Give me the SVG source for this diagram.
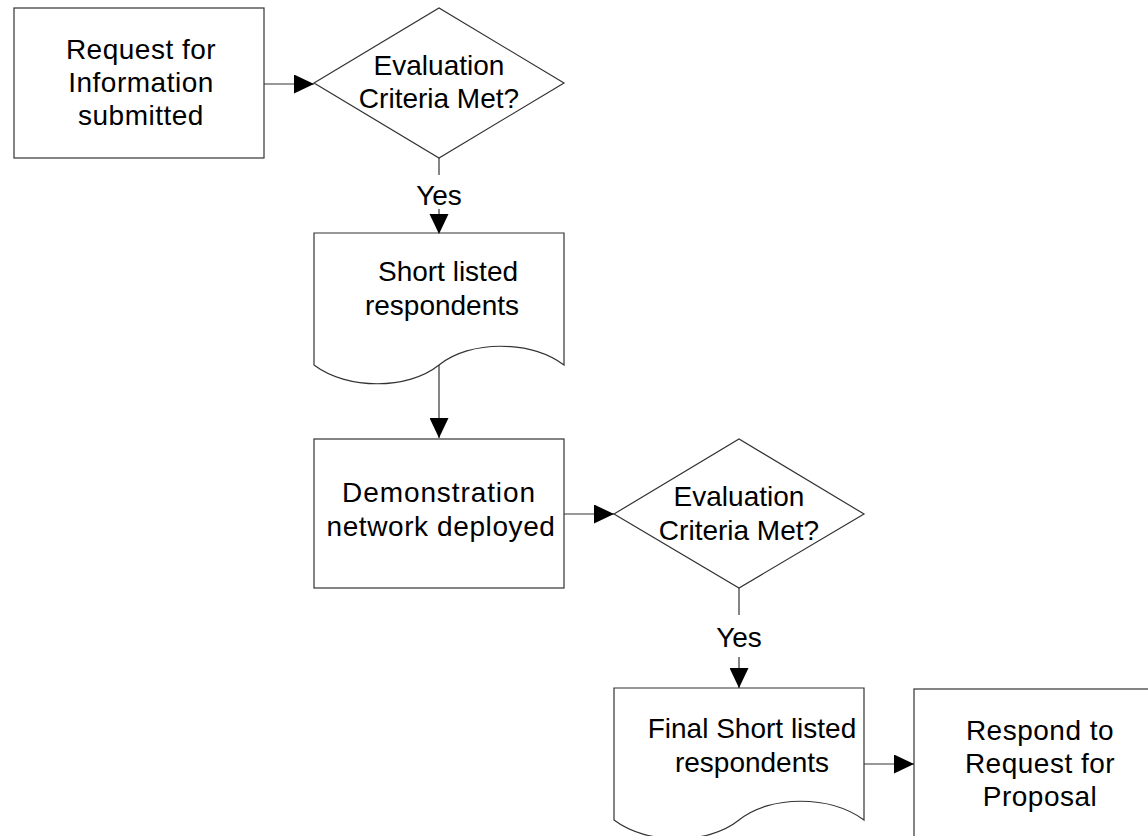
<svg xmlns="http://www.w3.org/2000/svg" width="1148" height="836" viewBox="0 0 1148 836">
<style>
.shape{fill:#fff;stroke:#333;stroke-width:1.2}
.con{fill:none;stroke:#333;stroke-width:1.2}
.head{fill:#000;stroke:none}
text{font-family:"Liberation Sans",Arial,sans-serif;font-size:28px;fill:#000;text-anchor:middle}
.sp{letter-spacing:0.5px}
</style>
<defs>
<marker id="arr" markerUnits="userSpaceOnUse" markerWidth="20" markerHeight="19" refX="20" refY="9.5" orient="auto" viewBox="0 0 20 19">
<path d="M0,0 L20,9.5 L0,19 z" fill="#000"/>
</marker>
<path id="headDown" d="M-9.5,-20 L9.5,-20 L0,0 z"/>
</defs>
<rect width="1148" height="836" fill="#fff"/>
<g id="rfi">
<rect class="shape" x="14" y="8" width="250" height="150"/>
<text class="sp" x="141" y="59">Request for</text>
<text class="sp" x="141" y="92">Information</text>
<text class="sp" x="141" y="125">submitted</text>
</g>
<g id="decision1">
<path class="shape" d="M314,83 L439,8 L564,83 L439,158 Z"/>
<text x="439" y="75">Evaluation</text>
<text x="439" y="108">Criteria Met?</text>
</g>
<g id="shortlist">
<path class="shape" d="M314,233 H564 V365 C530,340 470,340 439,365 C408,390 347,390 314,365 Z"/>
<text x="448" y="281">Short listed</text>
<text x="442" y="315">respondents</text>
</g>
<g id="demo">
<rect class="shape" x="314" y="439" width="250" height="149"/>
<text x="439" y="502" style="letter-spacing:0.9px">Demonstration</text>
<text x="441" y="536" style="letter-spacing:0.6px">network deployed</text>
</g>
<g id="decision2">
<path class="shape" d="M614,514 L739,439 L864,514 L739,588 Z"/>
<text x="739" y="506">Evaluation</text>
<text x="739" y="540">Criteria Met?</text>
</g>
<g id="finalshortlist">
<path class="shape" d="M614,688 H864 V820 C830,795 770,795 739,820 C708,845 647,845 614,820 Z"/>
<text x="752" y="738">Final Short listed</text>
<text x="752" y="772">respondents</text>
</g>
<g id="rfp">
<rect class="shape" x="914" y="689" width="250" height="150"/>
<text class="sp" x="1040" y="740">Respond to</text>
<text class="sp" x="1040" y="773">Request for</text>
<text class="sp" x="1040" y="806">Proposal</text>
</g>
<g id="connectors">
<path class="con" d="M264,84 H314" marker-end="url(#arr)"/>
<path class="con" d="M439,158 V175"/>
<path class="con" d="M439,209 V216"/>
<use href="#headDown" class="head" x="439" y="234"/>
<path class="con" d="M439,365 V438" marker-end="url(#arr)"/>
<path class="con" d="M564,514 H614" marker-end="url(#arr)"/>
<path class="con" d="M739,588 V615"/>
<path class="con" d="M739,657 V688" marker-end="url(#arr)"/>
<path class="con" d="M864,764 H914" marker-end="url(#arr)"/>
<text x="439" y="205">Yes</text>
<text x="739" y="647">Yes</text>
</g>
</svg>
